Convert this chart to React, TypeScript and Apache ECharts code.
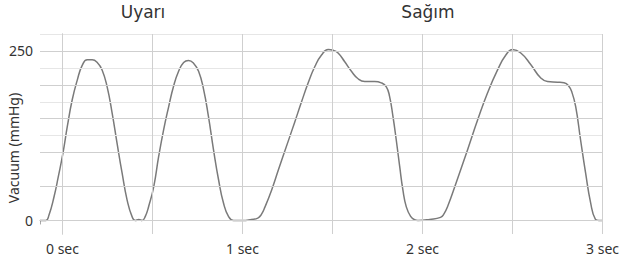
import React, { useEffect, useRef } from "react";
import * as echarts from "echarts";

// time (seconds) and vacuum (mmHg)
const timeSec = [
  -0.125, -0.093, -0.075, -0.047, -0.023, 0.003, 0.027, 0.054, 0.082, 0.11, 0.137, 0.165, 0.193, 0.22, 0.248,
  0.276, 0.303, 0.331, 0.359, 0.386, 0.405, 0.424, 0.442, 0.46, 0.479, 0.507, 0.534, 0.562, 0.59, 0.617,
  0.645, 0.673, 0.7, 0.728, 0.756, 0.784, 0.811, 0.839, 0.867, 0.894, 0.922, 0.95, 1.0, 1.05, 1.085,
  1.105, 1.125, 1.162, 1.2, 1.254, 1.29, 1.328, 1.365, 1.402, 1.439, 1.476, 1.504, 1.531, 1.568, 1.605,
  1.642, 1.679, 1.734, 1.771, 1.799, 1.817, 1.836, 1.854, 1.873, 1.891, 1.91, 1.934, 1.956, 1.975, 2.04,
  2.1, 2.12, 2.14, 2.186, 2.25, 2.306, 2.361, 2.417, 2.463, 2.5, 2.546, 2.601, 2.657, 2.694, 2.75,
  2.786, 2.81, 2.83, 2.851, 2.878, 2.906, 2.934, 2.96, 2.98, 3.0,
];
const vacuum = [
  0, 0, 8, 35, 65, 100, 139, 178, 207, 229, 237, 237, 233, 222, 197,
  158, 114, 70, 30, 6, 0, 1.5, 0, 6, 21, 50, 94, 134, 168, 198,
  220, 233, 236, 232, 220, 193, 153, 104, 60, 26, 6, 0, 0, 1.5, 3.5,
  9, 20, 45, 75, 117, 145, 175, 203, 227, 244, 252, 251, 247, 234, 220,
  209, 205, 205, 203, 197, 183, 153, 119, 80, 45, 20, 6, 1, 0, 1.5,
  4.5, 10, 21, 55, 104, 148, 188, 222, 244, 252, 247, 230, 210, 205, 204,
  203, 199, 189, 168, 119, 70, 26, 2, 0, 0,
];

const xLabelValues = [0, 1, 2, 3];
const xTickValues = [-0.125, 0.5, 1, 1.5, 2, 2.5, 3];
const xGridValues = [0, 0.5, 1, 1.5, 2, 2.5, 3];
const yTickValues = [0, 50, 100, 150, 200, 250];
const yLabelValues = [0, 250];
const yMinorGrid = [125, 175, 225, 275];
const phaseTitles = ["Uyarı", "Sağım"];
const yAxisTitle = "Vacuum (mmHg)";

export default function App() {
  const ref = useRef<HTMLDivElement>(null);
  useEffect(() => {
    if (!ref.current) return;
    const chart = echarts.init(ref.current, undefined, { renderer: "svg" });
    const data = timeSec.map((t, i) => [t, vacuum[i]]);
    const font = "'Noto Sans', sans-serif";
    const major = { color: "#cfcfcf", width: 1, type: "solid" as const };
    const minor = { color: "#e6e6e6", width: 1, type: "solid" as const };
    chart.setOption({
      animation: false,
      grid: { left: 40, right: 17, top: 34, bottom: 25 },
      xAxis: {
        type: "value",
        min: -0.125,
        max: 3,
        axisLine: { show: true, lineStyle: { color: "#a8a8a8", width: 1 } },
        axisTick: { show: true, customValues: xTickValues, length: 4, lineStyle: { color: "#a8a8a8" } },
        axisLabel: {
          customValues: xLabelValues,
          formatter: (v: number) => `${v} sec`,
          fontSize: 14,
          color: "#333",
          fontFamily: font,
          margin: 7,
          hideOverlap: false,
        },
        splitLine: { show: false },
      },
      yAxis: {
        type: "value",
        min: -20,
        max: 275,
        axisLine: { show: true, lineStyle: { color: "#a8a8a8", width: 1 } },
        axisTick: { show: true, customValues: yTickValues, length: 5, lineStyle: { color: "#a8a8a8" } },
        axisLabel: {
          customValues: yLabelValues,
          fontSize: 14,
          color: "#333",
          fontFamily: font,
          margin: 7,
        },
        splitLine: { show: false },
      },
      graphic: [
        {
          type: "text",
          x: 143,
          y: 12,
          style: {
            text: phaseTitles[0],
            fontSize: 17,
            fontFamily: "'DejaVu Sans', sans-serif",
            fill: "#333",
            align: "center",
            verticalAlign: "middle",
          },
        },
        {
          type: "text",
          x: 428,
          y: 12,
          style: {
            text: phaseTitles[1],
            fontSize: 17,
            fontFamily: "'DejaVu Sans', sans-serif",
            fill: "#333",
            align: "center",
            verticalAlign: "middle",
          },
        },
        {
          type: "text",
          x: 13,
          y: 148,
          rotation: Math.PI / 2,
          style: {
            text: yAxisTitle,
            fontSize: 14,
            fontFamily: font,
            fill: "#333",
            align: "center",
            verticalAlign: "middle",
          },
        },
      ],
      series: [
        {
          type: "line",
          data: [],
          silent: true,
          z: 1,
          markLine: {
            silent: true,
            symbol: ["none", "none"],
            label: { show: false },
            animation: false,
            data: [
              ...yMinorGrid.map((v) => ({ yAxis: v, lineStyle: minor })),
              ...yTickValues.map((v) => ({ yAxis: v, lineStyle: major })),
              ...xGridValues.map((v) => ({ xAxis: v, lineStyle: major })),
            ],
          },
        },
        {
          type: "line",
          data,
          z: 3,
          showSymbol: false,
          smooth: 0.5,
          lineStyle: { color: "#7a7a7a", width: 1.5 },
        },
      ],
    });
    return () => chart.dispose();
  }, []);
  return (
    <div
      ref={ref}
      style={{ position: "fixed", left: 0, top: 0, width: 622, height: 259, background: "#fff" }}
    />
  );
}
